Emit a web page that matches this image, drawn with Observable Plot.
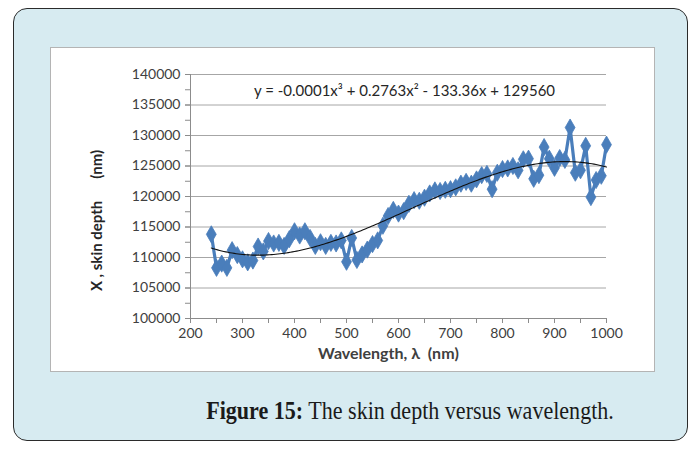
<!DOCTYPE html>
<html>
<head>
<meta charset="utf-8">
<script src="https://cdn.jsdelivr.net/npm/d3@7"></script>
<script src="https://cdn.jsdelivr.net/npm/@observablehq/plot@0.6"></script>
<style>
  html, body { margin: 0; padding: 0; background: #ffffff; }
  body { width: 699px; height: 449px; position: relative; overflow: hidden; }
  #panel {
    position: absolute; left: 13px; top: 8px; width: 673px; height: 431px;
    background: #d7ebf1; border: 1.5px solid #2b2b2b; border-radius: 14px;
  }
  #box {
    position: absolute; left: 50px; top: 47px; width: 603px; height: 323px;
    background: #ffffff; border: 1px solid #b4b4b4;
  }
  #box svg { display: block; }
  #caption {
    position: absolute; left: 0; top: 397px; width: 820px; text-align: center;
    font-family: "Liberation Serif", serif; font-size: 24.5px; color: #1a1a1a;
    white-space: nowrap; transform: scaleX(0.9); transform-origin: 410px 0;
  }
  #caption b { font-weight: bold; }
</style>
</head>
<body>
<div id="panel"></div>
<div id="box"></div>
<div id="caption"><b>Figure 15:</b> The skin depth versus wavelength.</div>
<script>
// Wavelength (nm) and skin depth (nm)
const wavelength = [
  240, 250, 260, 270, 280, 290, 300, 310, 320, 330,
  340, 350, 360, 370, 380, 390, 400, 410, 420, 430,
  440, 450, 460, 470, 480, 490, 500, 510, 520, 530,
  540, 550, 560, 570, 580, 590, 600, 610, 620, 630,
  640, 650, 660, 670, 680, 690, 700, 710, 720, 730,
  740, 750, 760, 770, 780, 790, 800, 810, 820, 830,
  840, 850, 860, 870, 880, 890, 900, 910, 920, 930,
  940, 950, 960, 970, 980, 990, 1000
];
const skinDepth = [
  113800, 108300, 109000, 108300, 111200, 110400, 109700, 109200, 109500, 111800,
  111000, 112700, 112300, 112400, 111900, 113000, 114300, 113600, 114300, 113200,
  111900, 112500, 111900, 112400, 112300, 112800, 109300, 113200, 109600, 110500,
  111300, 112200, 112800, 115200, 116800, 117800, 117200, 117600, 118800, 119400,
  119300, 119800, 120500, 121000, 120900, 121100, 121200, 121500, 122100, 122400,
  122100, 122800, 123500, 123700, 121200, 123900, 124500, 124600, 125000, 124300,
  126100, 126200, 122900, 123500, 128100, 126200, 124700, 126300, 126000, 131300,
  123900, 124300, 128300, 119900, 122700, 123400, 128500
];
const yTicks = [100000, 105000, 110000, 115000, 120000, 125000, 130000, 135000, 140000];
const xTicks = [200, 300, 400, 500, 600, 700, 800, 900, 1000];
const equation = "y = -0.0001x³ + 0.2763x² - 133.36x + 129560";

const data = wavelength.map((w, i) => ({w, d: skinDepth[i]}));

// Least-squares cubic trendline (computed on a centred/scaled x for stability)
function cubicFit(xs, ys) {
  const c = d3.mean(xs), s = (d3.max(xs) - d3.min(xs)) / 2;
  const n = 4, A = Array.from({length: n}, () => new Array(n + 1).fill(0));
  xs.forEach((x, k) => {
    const t = (x - c) / s, p = [1, t, t * t, t * t * t];
    for (let i = 0; i < n; i++) {
      for (let j = 0; j < n; j++) A[i][j] += p[i] * p[j];
      A[i][n] += p[i] * ys[k];
    }
  });
  for (let i = 0; i < n; i++) {
    let m = i;
    for (let r = i + 1; r < n; r++) if (Math.abs(A[r][i]) > Math.abs(A[m][i])) m = r;
    [A[i], A[m]] = [A[m], A[i]];
    for (let r = 0; r < n; r++) {
      if (r === i) continue;
      const f = A[r][i] / A[i][i];
      for (let j = i; j <= n; j++) A[r][j] -= f * A[i][j];
    }
  }
  const b = A.map((row, i) => row[n] / row[i]);
  return x => { const t = (x - c) / s; return b[0] + b[1] * t + b[2] * t * t + b[3] * t * t * t; };
}
const fit = cubicFit(wavelength, skinDepth);
const trend = d3.range(wavelength[0], wavelength[wavelength.length - 1] + 0.1, 4).map(w => ({w, d: fit(w)}));

const font = "Lato, 'Liberation Sans', sans-serif";
const gridColor = "#a6a6a6";
const axisColor = "#8c8c8c";
const blue = "#4a7ebb";

const chart = Plot.plot({
  width: 603,
  height: 323,
  marginLeft: 139,
  marginRight: 48,
  marginTop: 26,
  marginBottom: 53,
  style: {fontFamily: font, fontSize: "14px", color: "#404040", background: "transparent", overflow: "visible"},
  x: {domain: [200, 1000]},
  y: {domain: [100000, 140000]},
  marks: [
    Plot.ruleY(yTicks.slice(1), {stroke: gridColor, strokeWidth: 1}),
    Plot.axisY({ticks: d3.range(100000, 140001, 2500), tickSize: 5, tickFormat: () => "", stroke: axisColor, label: null}),
    Plot.axisY({ticks: yTicks, tickSize: 5, tickPadding: 5, tickFormat: d3.format("d"), stroke: axisColor, fill: "#404040", fontSize: 14, label: null}),
    Plot.axisX({ticks: d3.range(200, 1001, 50), tickSize: 5, tickFormat: () => "", stroke: axisColor, label: null}),
    Plot.axisX({ticks: xTicks, tickSize: 5, tickPadding: 5, tickFormat: d3.format("d"), stroke: axisColor, fill: "#404040", fontSize: 14, label: null}),
    Plot.ruleX([200], {stroke: axisColor}),
    Plot.ruleY([100000], {stroke: axisColor}),
    Plot.line(data, {x: "w", y: "d", stroke: blue, strokeWidth: 3.2, strokeLinejoin: "round"}),
    Plot.dot(data, {x: "w", y: "d", symbol: "diamond", r: 5.2, fill: blue, stroke: blue, strokeWidth: 0.8}),
    Plot.line(trend, {x: "w", y: "d", stroke: "#111111", strokeWidth: 1.1}),
    Plot.text([equation], {frameAnchor: "top", dx: 6, dy: 11, fontSize: 15, fill: "#262626"}),
    Plot.text(["Wavelength, λ  (nm)"], {frameAnchor: "bottom", dx: -10, dy: 40, fontSize: 16, fontWeight: "bold", fill: "#404040"}),
    Plot.text(["X , skin depth      (nm)"], {frameAnchor: "left", textAnchor: "middle", dx: -93, dy: 24, rotate: -90, fontSize: 15, fontWeight: "bold", fill: "#262626"})
  ]
});
document.getElementById("box").appendChild(chart);
</script>
</body>
</html>
